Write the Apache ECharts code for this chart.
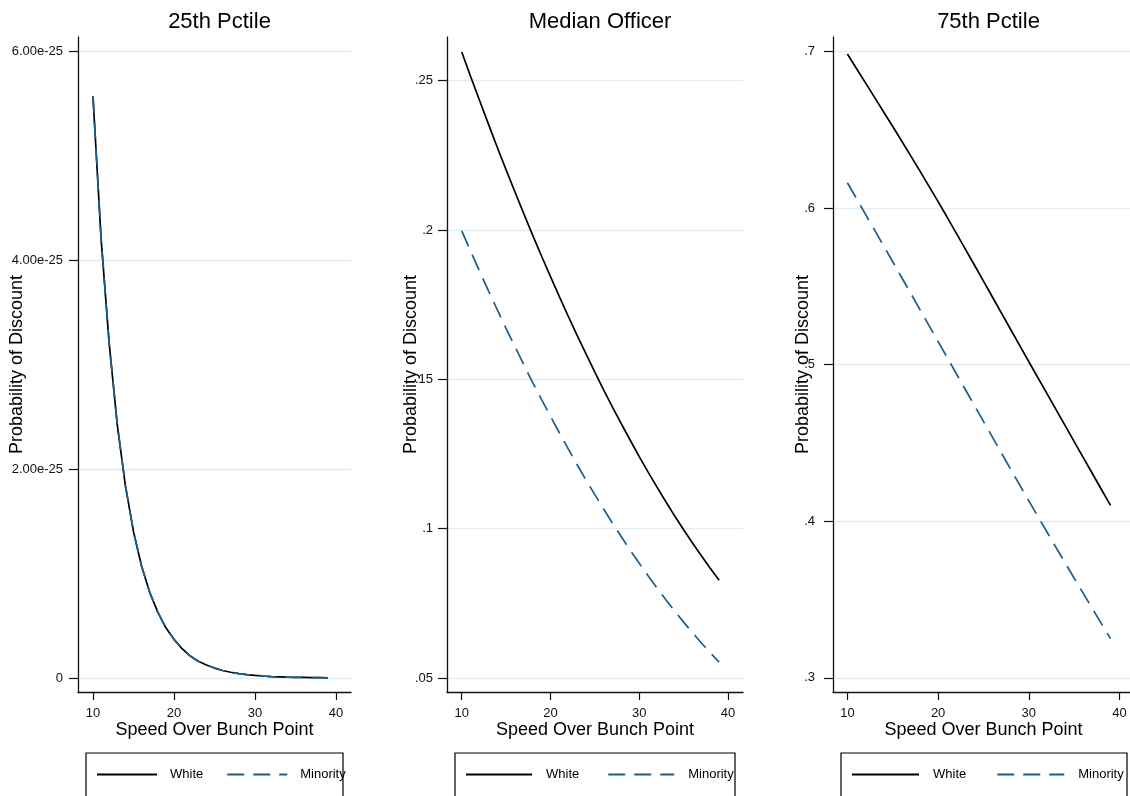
<!DOCTYPE html>
<html>
<head>
<meta charset="utf-8">
<script src="https://cdn.jsdelivr.net/npm/echarts@6/dist/echarts.min.js"></script>
<style>
html,body{margin:0;padding:0;background:#fff;}
#main{width:1130px;height:796px;}
</style>
</head>
<body>
<div id="main"></div>
<script>
// ---- data ----
const speed = [10,11,12,13,14,15,16,17,18,19,20,21,22,23,24,25,26,27,28,29,30,31,32,33,34,35,36,37,38,39];
const panelTitles = ['25th Pctile', 'Median Officer', '75th Pctile'];
const seriesNames = ['White', 'Minority'];
const xTitle = 'Speed Over Bunch Point';
const yTitle = 'Probability of Discount';
const xTicks = [10, 20, 30, 40];
const yTicks25 = [0, 2e-25, 4e-25, 6e-25];
const yTicksMed = [0.05, 0.1, 0.15, 0.2, 0.25];
const yTicks75 = [0.3, 0.4, 0.5, 0.6, 0.7];

const p25White = [5.56e-25,4.20e-25,3.20e-25,2.42e-25,1.84e-25,1.40e-25,1.07e-25,0.82e-25,0.63e-25,0.48e-25,
  0.37e-25,0.28e-25,0.21e-25,0.16e-25,0.125e-25,0.095e-25,0.072e-25,0.055e-25,0.042e-25,0.032e-25,
  0.025e-25,0.019e-25,0.014e-25,0.011e-25,0.008e-25,0.006e-25,0.005e-25,0.004e-25,0.003e-25,0.002e-25];
const p25Minority = [5.57e-25,4.21e-25,3.20e-25,2.43e-25,1.84e-25,1.40e-25,1.07e-25,0.82e-25,0.63e-25,0.48e-25,
  0.37e-25,0.28e-25,0.21e-25,0.16e-25,0.124e-25,0.095e-25,0.072e-25,0.055e-25,0.042e-25,0.032e-25,
  0.025e-25,0.019e-25,0.014e-25,0.011e-25,0.008e-25,0.006e-25,0.005e-25,0.004e-25,0.003e-25,0.002e-25];
const medWhite = [0.2596,0.2514,0.2434,0.2355,0.2277,0.2201,0.2127,0.2054,0.1982,0.1912,
  0.1844,0.1777,0.1711,0.1647,0.1585,0.1524,0.1464,0.1406,0.1350,0.1295,
  0.1241,0.1189,0.1139,0.1090,0.1042,0.0996,0.0952,0.0909,0.0867,0.0827];
const medMinority = [0.1997,0.1929,0.1862,0.1797,0.1733,0.1670,0.1609,0.1548,0.1489,0.1432,
  0.1376,0.1321,0.1267,0.1214,0.1163,0.1114,0.1065,0.1018,0.0972,0.0927,
  0.0884,0.0842,0.0801,0.0762,0.0724,0.0687,0.0652,0.0617,0.0584,0.0553];
const p75White = [0.6985,0.6893,0.6801,0.6708,0.6615,0.6522,0.6428,0.6333,0.6237,0.6140,
  0.6042,0.5942,0.5841,0.5739,0.5637,0.5534,0.5431,0.5328,0.5225,0.5122,
  0.5019,0.4917,0.4815,0.4713,0.4611,0.4509,0.4407,0.4305,0.4203,0.4101];
const p75Minority = [0.6163,0.6062,0.5961,0.5860,0.5759,0.5658,0.5556,0.5454,0.5352,0.5250,
  0.5148,0.5046,0.4944,0.4842,0.4740,0.4638,0.4536,0.4434,0.4332,0.4231,
  0.4130,0.4030,0.3931,0.3832,0.3734,0.3636,0.3539,0.3442,0.3346,0.3250];

// ---- layout / style ----
const FONT = '"Liberation Sans", Arial, Helvetica, sans-serif';
const AXIS = '#111';
const GRIDC = '#e3ecef';
const BLUE = '#1b5e8e';
const panels = [
  {left:78, width:273, xMin:8.148, xMax:41.85, yMin:-0.134e-25, yMax:6.134e-25, yTicks:yTicks25,
   fmt: v => v === 0 ? '0' : v.toExponential(2), labelSize:13, labelMargin:15, nameGap:52,
   white:p25White, minority:p25Minority,
   legend:{left:96, w:60, pad:8, gap:23}, box:{x:86, w:257}},
  {left:447, width:296, xMin:8.34, xMax:41.69, yMin:0.0453, yMax:0.2646, yTicks:yTicksMed,
   fmt: v => String(+v.toFixed(4)).replace(/^0/, ''), labelSize:13, labelMargin:14, nameGap:27,
   white:medWhite, minority:medMinority,
   legend:{left:465, w:66, pad:9, gap:28}, box:{x:455, w:280}},
  {left:833, width:301, xMin:8.414, xMax:41.59, yMin:0.2909, yMax:0.7094, yTicks:yTicks75,
   fmt: v => String(+v.toFixed(4)).replace(/^0/, ''), labelSize:13, labelMargin:18, nameGap:21,
   white:p75White, minority:p75Minority,
   legend:{left:851, w:67, pad:9, gap:30}, box:{x:841, w:286}}
];
const TOP = 37, HEIGHT = 655;

const grid = [], xAxis = [], yAxis = [], series = [], title = [], legend = [], graphic = [];
panels.forEach((p, i) => {
  grid.push({left:p.left, top:TOP, width:p.width, height:HEIGHT, containLabel:false, outerBoundsMode:'none'});
  title.push({text:panelTitles[i], left:p.left + p.width/2, top:6, textAlign:'center',
    textStyle:{fontFamily:FONT, fontSize:22, fontWeight:'normal', color:'#000'}});
  xAxis.push({type:'value', gridIndex:i, min:p.xMin, max:p.xMax,
    name:xTitle, nameLocation:'middle', nameGap:29, nameMoveOverlap:false,
    nameTextStyle:{fontFamily:FONT, fontSize:18, color:'#000'},
    axisLine:{show:true, onZero:false, lineStyle:{color:AXIS, width:1.3}},
    axisTick:{show:true, length:8, customValues:xTicks, lineStyle:{color:AXIS, width:1.2}},
    axisLabel:{customValues:xTicks, margin:15, fontFamily:FONT, fontSize:13, color:'#111'},
    splitLine:{show:false}});
  yAxis.push({type:'value', gridIndex:i, min:p.yMin, max:p.yMax,
    name:yTitle, nameLocation:'middle', nameGap:p.nameGap, nameMoveOverlap:false,
    nameTextStyle:{fontFamily:FONT, fontSize:18, color:'#000'},
    axisLine:{show:true, onZero:false, lineStyle:{color:AXIS, width:1.3}},
    axisTick:{show:true, length:9, customValues:p.yTicks, lineStyle:{color:AXIS, width:1.2}},
    axisLabel:{customValues:p.yTicks, margin:p.labelMargin, fontFamily:FONT, fontSize:p.labelSize, color:'#111',
      formatter:p.fmt},
    splitLine:{show:true, lineStyle:{color:GRIDC, width:1.4}}});
  series.push({name:seriesNames[0], type:'line', xAxisIndex:i, yAxisIndex:i,
    data: speed.map((x, k) => [x, p.white[k]]), symbol:'none', showSymbol:false,
    lineStyle:{color:'#000', width:1.7}, itemStyle:{color:'#000'}, emphasis:{disabled:true}});
  series.push({name:seriesNames[1], type:'line', xAxisIndex:i, yAxisIndex:i,
    data: speed.map((x, k) => [x, p.minority[k]]), symbol:'none', showSymbol:false,
    lineStyle:{color:BLUE, width:1.7, type:[17, 9]}, itemStyle:{color:BLUE}, emphasis:{disabled:true}});
  legend.push({data:seriesNames, left:p.legend.left, top:768, padding:0, orient:'horizontal',
    itemWidth:p.legend.w, itemHeight:14, itemGap:p.legend.gap, selectedMode:false,
    itemStyle:{opacity:0}, lineStyle:{width:2},
    textStyle:{fontFamily:FONT, fontSize:13, color:'#000', padding:[0,0,0,p.legend.pad]}});
  graphic.push({type:'rect', shape:{x:p.box.x, y:753, width:p.box.w, height:70},
    style:{fill:'none', stroke:'#000', lineWidth:1.2}, silent:true});
});

const chart = echarts.init(document.getElementById('main'), null, {renderer:'canvas'});
chart.setOption({
  animation:false,
  backgroundColor:'#fff',
  title, grid, xAxis, yAxis, series, legend, graphic
});
</script>
</body>
</html>
